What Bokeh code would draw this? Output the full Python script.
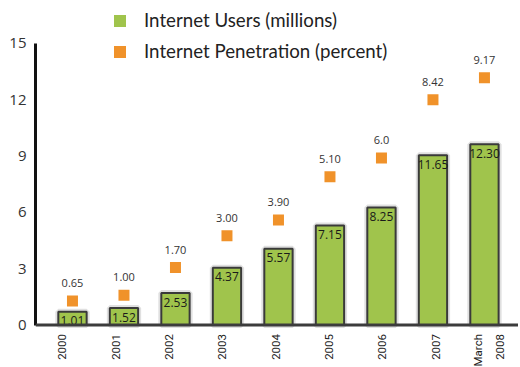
import numpy as np
from bokeh.plotting import figure
from bokeh.models import Range1d, FixedTicker, Legend, LegendItem, ColumnDataSource, Span
from bokeh.core.properties import value
from bokeh.embed import file_html
from bokeh.resources import INLINE

# ---- data ----
categories = ["2000", "2001", "2002", "2003", "2004", "2005", "2006", "2007", "March\n2008"]
users_bar_height = [0.70, 0.90, 1.70, 3.05, 4.06, 5.30, 6.26, 9.04, 9.63]
users_labels = ["1.01", "1.52", "2.53", "4.37", "5.57", "7.15", "8.25", "11.65", "12.30"]
penetration_marker = [1.28, 1.58, 3.06, 4.75, 5.60, 7.90, 8.90, 12.00, 13.17]
penetration_labels = ["0.65", "1.00", "1.70", "3.00", "3.90", "5.10", "6.0", "8.42", "9.17"]
y_ticks = [0, 3, 6, 9, 12, 15]

GREEN = "#a0c44c"
ORANGE = "#f0922a"
FONT = "Open Sans"

xs = list(range(len(categories)))
src = ColumnDataSource(dict(x=xs, base=[0] * len(xs), cat=categories,
                            bar=users_bar_height, bar_lab=users_labels,
                            pen=penetration_marker, pen_lab=penetration_labels))

W, H = 518, 367
p = figure(width=W, height=H, output_backend="svg", toolbar_location=None,
           x_range=Range1d(-0.718, 8.661), y_range=Range1d(-2.264, 17.29),
           min_border_left=35, min_border_right=0, min_border_top=0, min_border_bottom=0)
# the category labels sit on their own evenly spaced scale (as in the original)
p.extra_x_ranges = {"cats": Range1d(-0.5006, 8.556)}
p.outline_line_color = None
p.xgrid.visible = False
p.ygrid.visible = False
p.xaxis.visible = False
p.background_fill_color = "white"
p.border_fill_color = "white"

# bar shadow + bars
p.vbar(x="x", top="bar", width=0.55, source=src, fill_color=None,
       line_color="#000000", line_alpha=0.12, line_width=6)
p.vbar(x="x", top="bar", width=0.55, source=src, fill_color=GREEN,
       line_color="#3a3a3a", line_width=2)
p.text(x="x", y="bar", text="bar_lab", source=src, text_align="center",
       text_baseline="middle", y_offset=9, text_color="#1a1a1a",
       text_font=value(FONT), text_font_size=value("12px"))

# x axis line (baseline)
p.add_layout(Span(location=0, dimension="width", line_color="#3c3c3c", line_width=3))

# category labels below the baseline, vertical
p.text(x="x", y="base", text="cat", source=src, angle=np.pi / 2, x_range_name="cats",
       text_align="right", text_baseline="middle", y_offset=9,
       text_font=value("Roboto"), text_font_size=value("11.5px"), text_color="#222222",
       text_line_height=1.55)

# penetration markers
p.scatter(x="x", y="pen", source=src, marker="square", size=11,
          fill_color=ORANGE, line_color=None)
p.text(x="x", y="pen", text="pen_lab", source=src, text_align="center",
       text_baseline="middle", y_offset=-18, text_color="#333333",
       text_font=value(FONT), text_font_size=value("11px"))

# y axis
yax = p.yaxis[0]
yax.ticker = FixedTicker(ticks=y_ticks)
yax.bounds = (0, 15)
yax.axis_line_width = 3
yax.axis_line_color = "#111111"
yax.major_tick_line_color = None
yax.minor_tick_line_color = None
yax.major_tick_out = 0
yax.major_tick_in = 0
yax.major_label_standoff = 9
yax.major_label_text_font = FONT
yax.major_label_text_font_size = "15px"
yax.major_label_text_color = "#333333"

# legend using hidden renderers
r_users = p.vbar(x="x", top="bar", width=0.5, source=src, fill_color=GREEN,
                 line_color=None, visible=False)
r_pen = p.vbar(x="x", top="pen", width=0.5, source=src, fill_color=ORANGE,
               line_color=None, visible=False)
legend = Legend(items=[LegendItem(label="Internet Users (millions)", renderers=[r_users]),
                       LegendItem(label="Internet Penetration (percent)", renderers=[r_pen])],
                location=(77, 305), padding=0, margin=0, spacing=9,
                glyph_width=15, glyph_height=15, label_height=22, label_standoff=17,
                label_text_font="Lato", label_text_font_size="18.7px",
                label_text_color="#222222", click_policy="none",
                border_line_alpha=0, background_fill_alpha=0)
p.add_layout(legend, "center")

open("out.html", "w").write(file_html(p, INLINE))
